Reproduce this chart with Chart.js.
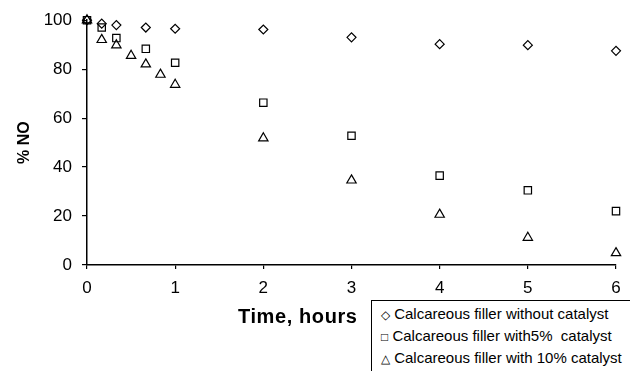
<!DOCTYPE html>
<html>
<head>
<meta charset="utf-8">
<script src="https://cdn.jsdelivr.net/npm/chart.js@4.4.1/dist/chart.umd.min.js"></script>
<style>
    body { margin: 0; background: #fff; font-family: "Liberation Sans", Arial, sans-serif; }
    #wrap { position: relative; width: 630px; height: 371px; overflow: hidden; }
    #xTitle {
        position: absolute; left: 238px; top: 306px;
        font-size: 20px; font-weight: bold; line-height: 1; color: #000;
        letter-spacing: 0.6px;
    }
    #legendBox {
        position: absolute; left: 371px; top: 300px; width: 300px; height: 100px;
        border: 1.5px solid #000; background: #fff;
        font-size: 15px; color: #000;
        padding: 2px 0 0 9px; box-sizing: border-box;
    }
    #legendBox div { height: 22px; line-height: 22px; white-space: pre; }
    #legendBox span { font-size: 12px; }
</style>
</head>
<body>
<div id="wrap">
    <canvas id="noChart" width="630" height="371"></canvas>
    <div id="xTitle">Time, hours</div>
    <div id="legendBox">
        <div><span>◇</span> Calcareous filler without catalyst</div>
        <div><span>□</span> Calcareous filler with5%  catalyst</div>
        <div><span>△</span> Calcareous filler with 10% catalyst</div>
    </div>
</div>
<script>
// time in hours
const timeNoCat = [0, 0.167, 0.333, 0.667, 1, 2, 3, 4, 5, 6];
const noCatalyst = [100, 98.6, 98, 97, 96.5, 96.2, 93, 90.2, 89.8, 87.5];

const time5 = [0, 0.167, 0.333, 0.667, 1, 2, 3, 4, 5, 6];
const catalyst5 = [100, 97, 92.7, 88.3, 82.6, 66.3, 52.8, 36.5, 30.5, 22];

const time10 = [0, 0.167, 0.333, 0.5, 0.667, 0.833, 1, 2, 3, 4, 5, 6];
const catalyst10 = [100, 92, 89.8, 85.5, 82, 77.8, 73.7, 51.8, 34.6, 20.6, 11.2, 4.9];

const xTicks = [0, 1, 2, 3, 4, 5, 6];
const yTicks = [0, 20, 40, 60, 80, 100];

function toPoints(xs, ys) {
    return xs.map((x, i) => ({ x: x, y: ys[i] }));
}

const ctx = document.getElementById("noChart").getContext("2d");

new Chart(ctx, {
    type: "scatter",
    data: {
        datasets: [
            {
                label: "Calcareous filler without catalyst",
                data: toPoints(timeNoCat, noCatalyst),
                pointStyle: "rectRot",
                pointRadius: 4.5,
                borderColor: "#000",
                backgroundColor: "rgba(0,0,0,0)",
                borderWidth: 1.2,
                clip: false
            },
            {
                label: "Calcareous filler with5%  catalyst",
                data: toPoints(time5, catalyst5),
                pointStyle: "rect",
                pointRadius: 5.2,
                borderColor: "#000",
                backgroundColor: "rgba(0,0,0,0)",
                borderWidth: 1.2,
                clip: false
            },
            {
                label: "Calcareous filler with 10% catalyst",
                data: toPoints(time10, catalyst10),
                pointStyle: "triangle",
                pointRadius: 5.4,
                borderColor: "#000",
                backgroundColor: "rgba(0,0,0,0)",
                borderWidth: 1.2,
                clip: false
            }
        ]
    },
    options: {
        responsive: false,
        animation: false,
        layout: { padding: { left: 0, right: 14, top: 19, bottom: 76 } },
        plugins: {
            legend: { display: false },
            tooltip: { enabled: false }
        },
        scales: {
            x: {
                type: "linear",
                min: 0,
                max: 6,
                afterBuildTicks: axis => { axis.ticks = xTicks.map(v => ({ value: v })); },
                afterFit: axis => { axis.height = 30; },
                grid: { drawOnChartArea: false, tickLength: 4, color: "#000", lineWidth: 1.2 },
                border: { color: "#000", width: 1.5 },
                ticks: { color: "#000", padding: 9, font: { family: "Liberation Sans, Arial", size: 17 } }
            },
            y: {
                min: 0,
                max: 100,
                afterBuildTicks: axis => { axis.ticks = yTicks.map(v => ({ value: v })); },
                afterFit: axis => { axis.width = 87; },
                grid: { drawOnChartArea: false, tickLength: 5, color: "#000", lineWidth: 1.2 },
                border: { color: "#000", width: 1.5 },
                ticks: { color: "#000", padding: 10, font: { family: "Liberation Sans, Arial", size: 17 } },
                title: {
                    display: true,
                    text: "% NO",
                    color: "#000",
                    padding: { top: 15, bottom: 0 },
                    font: { family: "Liberation Sans, Arial", size: 16, weight: "bold" }
                }
            }
        }
    }
});
</script>
</body>
</html>
